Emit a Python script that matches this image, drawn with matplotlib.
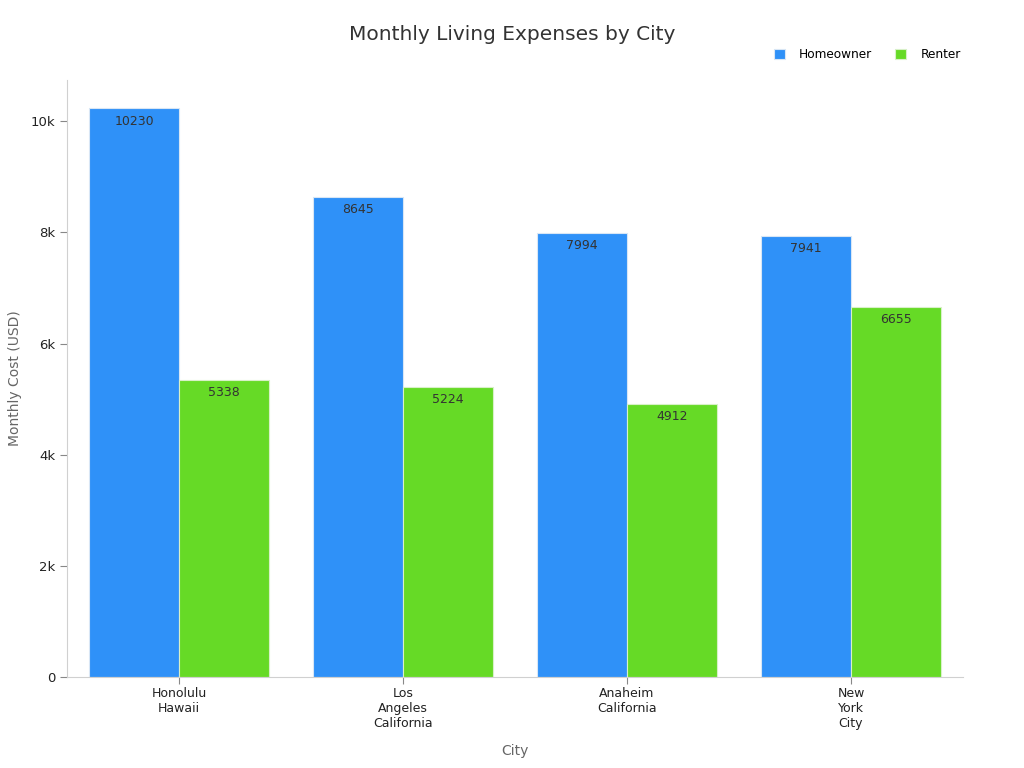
import matplotlib.pyplot as plt
from matplotlib.ticker import FuncFormatter
import numpy as np

cities = ['Honolulu\nHawaii', 'Los\nAngeles\nCalifornia', 'Anaheim\nCalifornia', 'New\nYork\nCity']
homeowner = [10230, 8645, 7994, 7941]
renter = [5338, 5224, 4912, 6655]

blue = '#2f91f8'
green = '#66da26'

fig = plt.figure(figsize=(10.24, 7.68), dpi=100)
ax = fig.add_axes([0.0654, 0.1185, 0.875, 0.7773])

x = np.arange(len(cities))
w = 0.4
b1 = ax.bar(x - w / 2, homeowner, w, color=blue, edgecolor='#d8e6f5', linewidth=0.8, label='Homeowner')
b2 = ax.bar(x + w / 2, renter, w, color=green, edgecolor='#d8f0c8', linewidth=0.8, label='Renter')

for bars in (b1, b2):
    for r in bars:
        ax.text(r.get_x() + r.get_width() / 2, r.get_height() - 110, f'{int(r.get_height())}',
                ha='center', va='top', fontsize=9, color='#333333')

ax.set_xlim(-0.5, 3.5)
ax.set_ylim(0, 10741)
ax.set_xticks(x)
ax.set_xticklabels(cities, fontsize=9, color='#222222')
ax.yaxis.set_major_formatter(FuncFormatter(lambda v, p: '0' if v == 0 else f'{int(v / 1000)}k'))
ax.tick_params(axis='y', labelsize=9.5, colors='#222222', length=5, color='#888888')
ax.tick_params(axis='x', length=5, color='#888888', pad=2)

for s in ('top', 'right'):
    ax.spines[s].set_visible(False)
for s in ('left', 'bottom'):
    ax.spines[s].set_color('#d0d0d0')

ax.set_xlabel('City', fontsize=10, color='#666666', labelpad=10)
ax.set_ylabel('Monthly Cost (USD)', fontsize=10, color='#666666', labelpad=6)

fig.suptitle('Monthly Living Expenses by City', fontsize=14.5, color='#333333', y=0.968)
fig.legend(loc='upper right', bbox_to_anchor=(0.949, 0.952), ncol=2, frameon=False, fontsize=8.7,
           handlelength=0.9, handleheight=0.9, columnspacing=1.9, handletextpad=1.2)

fig.savefig('out.png', dpi=100)
